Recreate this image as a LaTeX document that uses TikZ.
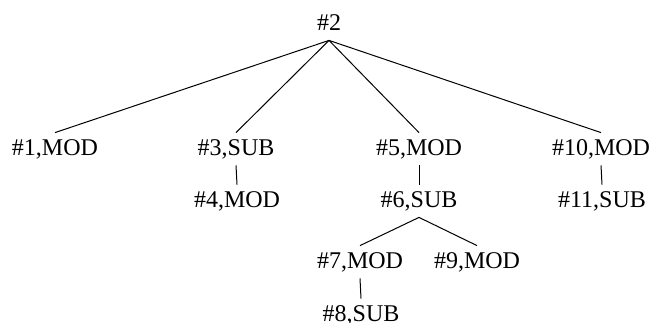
\documentclass[tikz,border=0pt]{standalone}
\usepackage{fontspec}
\setmainfont{Liberation Serif}
\begin{document}
\begin{tikzpicture}[x=0.5pt,y=-0.5pt,
    tnode/.style={anchor=base,inner sep=3pt,text height=8pt,text depth=2pt,font=\fontsize{12}{14}\selectfont},
    edge/.style={line width=0.5pt}]
    \useasboundingbox (0,0) rectangle (651,322);
    % root
    \node[tnode] (n2) at (329,30) {\#2};
    % first level
    \node[tnode] (n1) at (55,155) {\#1,MOD};
    \node[tnode] (n3) at (236,155) {\#3,SUB};
    \node[tnode] (n5) at (419,155) {\#5,MOD};
    \node[tnode] (n10) at (601,155) {\#10,MOD};
    % second level
    \node[tnode] (n4) at (237,207) {\#4,MOD};
    \node[tnode] (n6) at (419,207) {\#6,SUB};
    \node[tnode] (n11) at (602,207) {\#11,SUB};
    % third and fourth level
    \node[tnode] (n7) at (360,268) {\#7,MOD};
    \node[tnode] (n9) at (477,268) {\#9,MOD};
    \node[tnode] (n8) at (361,321) {\#8,SUB};
    % edges
    \foreach \c in {n1,n3,n5,n10}
        \draw[edge] (n2.south) -- (\c.north);
    \draw[edge] (n3.south) -- (n4.north);
    \draw[edge] (n5.south) -- (n6.north);
    \draw[edge] (n10.south) -- (n11.north);
    \draw[edge] (n6.south) -- (n7.north);
    \draw[edge] (n6.south) -- (n9.north);
    \draw[edge] (n7.south) -- (n8.north);
\end{tikzpicture}
\end{document}
